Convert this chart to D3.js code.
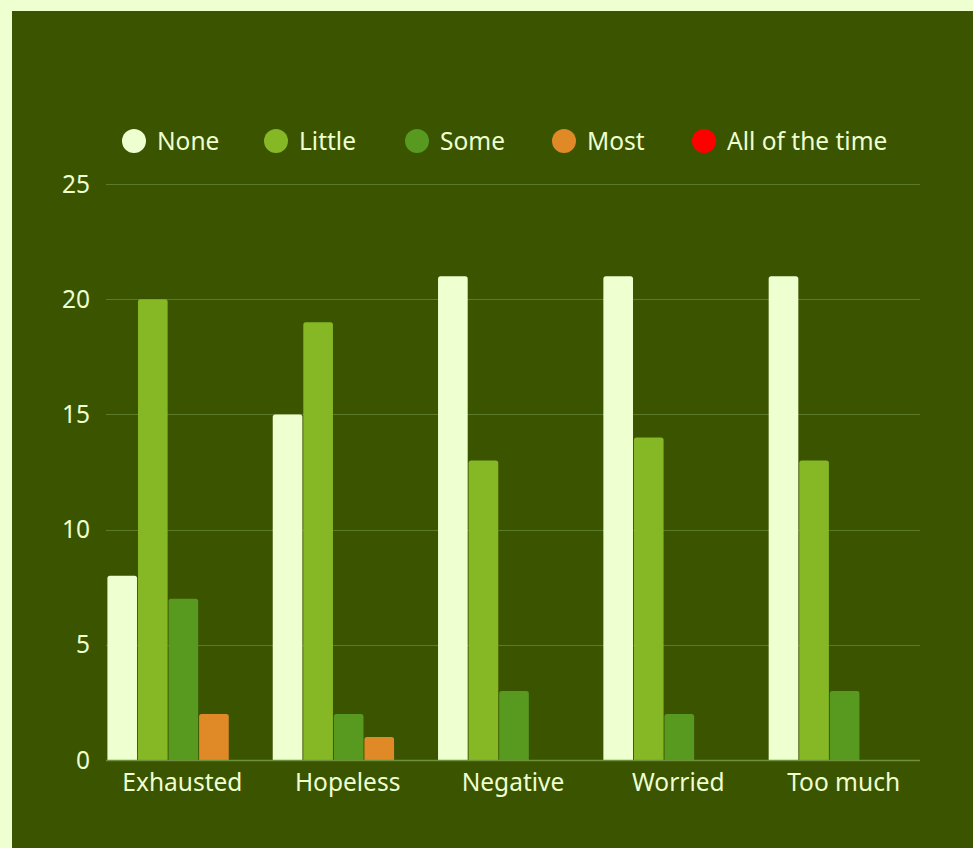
<!DOCTYPE html>
<html>
<head>
<meta charset="utf-8">
<script src="https://cdn.jsdelivr.net/npm/d3@7"></script>
<style>
  html, body { margin: 0; padding: 0; background: #eeffd0; }
  svg { display: block; }
</style>
</head>
<body>
<svg id="chart" width="973" height="848"></svg>
<script>
const categories = ["Exhausted", "Hopeless", "Negative", "Worried", "Too much"];
const seriesNames = ["None", "Little", "Some", "Most", "All of the time"];
const seriesColors = ["#eeffd0", "#86b825", "#58991f", "#e08a27", "#ff0000"];
const noneValues = [8, 15, 21, 21, 21];
const littleValues = [20, 19, 13, 14, 13];
const someValues = [7, 2, 3, 2, 3];
const mostValues = [2, 1, 0, 0, 0];
const allValues = [0, 0, 0, 0, 0];
const yTicks = [0, 5, 10, 15, 20, 25];

const seriesValues = [noneValues, littleValues, someValues, mostValues, allValues];

const svg = d3.select("#chart");
const W = 973, H = 848;
const textColor = "#eeffd0";
const fontFamily = "'Noto Sans', 'Open Sans', sans-serif";
const fontSize = "24.5px";

// dark panel
svg.append("rect").attr("x", 12).attr("y", 11).attr("width", W - 12).attr("height", H - 11)
  .attr("fill", "#3a5400");

const plot = { left: 106.5, right: 921.5, top: 184, bottom: 760 };

const x0 = d3.scaleBand().domain(categories).range([plot.left, plot.right])
  .paddingInner(0.07).paddingOuter(0);
const x1 = d3.scaleBand().domain(seriesNames).range([0, x0.bandwidth()]).padding(0.03);
const y = d3.scaleLinear().domain([0, 25]).range([plot.bottom, plot.top]);

// grid lines
svg.append("g").selectAll("line").data(yTicks.filter(d => d > 0)).join("line")
  .attr("x1", 106).attr("x2", 920)
  .attr("y1", d => Math.round(y(d)) + 0.5).attr("y2", d => Math.round(y(d)) + 0.5)
  .attr("stroke", "#5c7a2c").attr("stroke-width", 1);

// y tick labels
svg.append("g").selectAll("text").data(yTicks).join("text")
  .attr("x", 90).attr("y", d => y(d))
  .attr("dy", "0.35em")
  .attr("text-anchor", "end")
  .attr("fill", textColor)
  .style("font-family", fontFamily).style("font-size", fontSize)
  .text(d => d);

// bars with slightly rounded tops
function topRoundedRect(x, yTop, w, h, r) {
  if (h <= 0) return "";
  r = Math.min(r, h, w / 2);
  return `M${x},${yTop + h}V${yTop + r}Q${x},${yTop} ${x + r},${yTop}H${x + w - r}Q${x + w},${yTop} ${x + w},${yTop + r}V${yTop + h}Z`;
}

const groups = svg.append("g").selectAll("g").data(categories).join("g")
  .attr("transform", d => `translate(${x0(d)},0)`);

groups.selectAll("path")
  .data((c, ci) => seriesNames.map((s, si) => ({ s, si, v: seriesValues[si][ci] })))
  .join("path")
  .attr("d", d => topRoundedRect(x1(d.s), y(d.v), x1.bandwidth(), y(0) - y(d.v), 2.5))
  .attr("fill", d => seriesColors[d.si]);

// baseline
svg.append("line").attr("x1", 106).attr("x2", 920)
  .attr("y1", y(0) + 0.5).attr("y2", y(0) + 0.5)
  .attr("stroke", "#6e8f3c").attr("stroke-width", 1.5);

// x labels
svg.append("g").selectAll("text").data(categories).join("text")
  .attr("x", d => x0(d) + x0.bandwidth() / 2 - 1)
  .attr("y", 791)
  .attr("text-anchor", "middle")
  .attr("fill", textColor)
  .style("font-family", fontFamily).style("font-size", fontSize)
  .text(d => d);

// legend
const legendX = [134, 276, 417, 564, 704];
const legend = svg.append("g").selectAll("g").data(seriesNames).join("g")
  .attr("transform", (d, i) => `translate(${legendX[i]},141)`);
legend.append("circle").attr("r", 12).attr("fill", (d, i) => seriesColors[i]);
legend.append("text").attr("x", 23).attr("dy", "0.35em")
  .attr("fill", textColor)
  .style("font-family", fontFamily).style("font-size", fontSize)
  .text(d => d);
</script>
</body>
</html>
